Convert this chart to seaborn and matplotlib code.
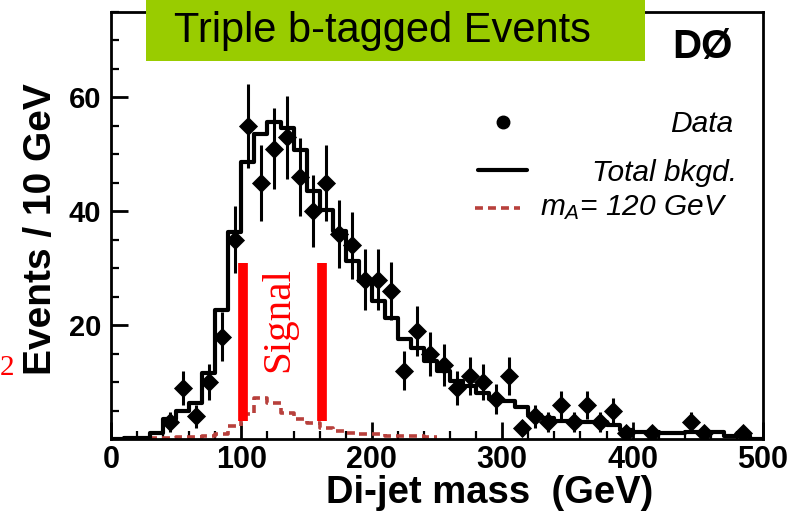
import numpy as np
import pandas as pd
import matplotlib
matplotlib.use("Agg")
import matplotlib.pyplot as plt
from matplotlib.patches import Rectangle
from matplotlib.ticker import MultipleLocator, FixedLocator
import seaborn as sns

# ---------------- data ----------------
bkg_edges = list(range(0, 510, 10))
bkg_counts = [0.0, 0.1, 0.2, 1.0, 3.6, 5.0, 6.4, 11.6, 22.6, 36.3,
              48.7, 53.6, 55.7, 54.6, 50.8, 43.6, 40.3, 36.6, 31.2, 27.7,
              24.2, 21.3, 17.5, 16.0, 13.7, 11.9, 10.2, 9.3, 8.1, 7.0,
              6.7, 5.6, 4.3, 3.7, 3.2, 3.2, 2.9, 2.9, 2.4, 1.5,
              1.2, 1.2, 1.1, 1.1, 1.3, 1.3, 1.3, 0.5, 0.5, 0.0]

sig_edges = list(range(0, 260, 10))
sig_counts = [0.0, 0.05, 0.1, 0.15, 0.2, 0.3, 0.4, 0.5, 0.9, 2.3,
              4.4, 7.2, 6.4, 4.5, 3.5, 2.8, 2.0, 1.4, 1.1, 0.8,
              0.8, 0.6, 0.5, 0.5, 0.4]

data_x = [45, 55, 65, 75, 85, 95, 105, 115, 125, 135, 145, 155, 165, 175,
          185, 195, 205, 215, 225, 235, 245, 255, 265, 275, 285, 295, 305,
          315, 325, 335, 345, 355, 365, 375, 385, 395, 415, 445, 455, 485]
data_y = [3, 9, 4, 10, 18, 35, 55, 45, 51, 53, 46, 40, 45, 36,
          34, 28, 28, 26, 12, 19, 15, 13, 9, 11, 10, 7, 11,
          2, 4, 3, 6, 3, 6, 3, 5, 1, 1, 3, 1, 1]

signal_window = [101, 162]
signal_window_y = [3.2, 31]

x_ticks = [0, 100, 200, 300, 400, 500]
y_ticks = [20, 40, 60]

# ---------------- style ----------------
sns.set_style("ticks")
plt.rcParams["font.family"] = ["Liberation Sans", "DejaVu Sans"]
plt.rcParams["mathtext.fontset"] = "custom"
plt.rcParams["mathtext.it"] = "Liberation Sans:italic"
plt.rcParams["mathtext.rm"] = "Liberation Sans:italic"
for key in ["text.color", "axes.labelcolor", "xtick.color", "ytick.color",
            "xtick.labelcolor", "ytick.labelcolor", "axes.edgecolor"]:
    plt.rcParams[key] = "black"

fig = plt.figure(figsize=(7.96, 5.13), dpi=100)
W, H = 796, 513
ax = fig.add_axes([111 / W, 1 - 439 / H, 652 / W, 427 / H])

# background histogram
bkg_df = pd.DataFrame({"mass": np.array(bkg_edges[:-1]) + 5, "w": bkg_counts})
sns.histplot(data=bkg_df, x="mass", weights="w", bins=bkg_edges, element="step",
             fill=False, color="black", linewidth=3.0, ax=ax, zorder=3)

# signal histogram
sig_color = "#B8403C"
sig_dash = (0, (2.2, 1.4))
sig_df = pd.DataFrame({"mass": np.array(sig_edges[:-1]) + 5, "w": sig_counts})
sns.histplot(data=sig_df, x="mass", weights="w", bins=sig_edges, element="step",
             fill=False, color=sig_color, linewidth=2.6, linestyle=sig_dash,
             ax=ax, zorder=2)

# data points with errors
data_df = pd.DataFrame({"mass": data_x, "n": data_y})
ax.errorbar(data_df["mass"], data_df["n"], yerr=np.sqrt(data_df["n"]), fmt="none",
            ecolor="black", elinewidth=2.2, capsize=0, zorder=4)
sns.scatterplot(data=data_df, x="mass", y="n", marker="D", s=95, color="black",
                edgecolor="black", linewidth=0, ax=ax, zorder=5)

# signal window lines
ax.vlines(signal_window, signal_window_y[0], signal_window_y[1],
          color="#FF0000", linewidth=7, zorder=6)
ax.text(0.258, 0.28, "Signal", transform=ax.transAxes, rotation=90,
        ha="center", va="center", color="#FF0000",
        family=["Liberation Serif", "DejaVu Serif"], fontsize=29.5, zorder=7)

# axes
ax.set_xlim(0, 500)
ax.set_ylim(0, 75)
ax.xaxis.set_major_locator(FixedLocator(x_ticks))
ax.xaxis.set_minor_locator(MultipleLocator(20))
ax.yaxis.set_major_locator(FixedLocator(y_ticks))
ax.yaxis.set_minor_locator(MultipleLocator(5))
ax.tick_params(which="major", direction="in", length=12, width=2, color="black")
ax.tick_params(which="minor", direction="in", length=6, width=1.6, color="black")
ax.tick_params(axis="x", which="major", labelsize=22, pad=4, labelcolor="black")
ax.tick_params(axis="y", which="major", labelsize=21, pad=7, labelcolor="black")
for lab in ax.get_xticklabels() + ax.get_yticklabels():
    lab.set_fontweight("bold")
for sp in ax.spines.values():
    sp.set_visible(True)
    sp.set_linewidth(2)
    sp.set_color("black")

ax.set_xlabel("Di-jet mass  (GeV)", fontsize=27.5, fontweight="bold", color="black")
ax.set_ylabel("Events / 10 GeV", fontsize=28, fontweight="bold", color="black")
ax.xaxis.set_label_coords(0.581, -0.084)
ax.yaxis.set_label_coords(-0.08, 0.492)

# legend (drawn manually in axes fraction)
ax.plot([0.601], [0.742], marker="o", ms=9, color="black", transform=ax.transAxes,
        clip_on=False)
ax.text(0.954, 0.719, "Data", transform=ax.transAxes, ha="right", va="baseline",
        style="italic", fontsize=21.5)
ax.plot([0.563, 0.638], [0.630, 0.630], color="black", lw=3, transform=ax.transAxes)
ax.text(0.960, 0.604, "Total bkgd.", transform=ax.transAxes, ha="right",
        va="baseline", style="italic", fontsize=21.5)
ax.plot([0.558, 0.627], [0.541, 0.541], color=sig_color, lw=2.6,
        linestyle=sig_dash, transform=ax.transAxes)
ax.text(0.945, 0.525, r"$m_A$= 120 GeV", transform=ax.transAxes, ha="right",
        va="baseline", style="italic", fontsize=21.5)

# title box
fig.add_artist(Rectangle((146 / W, 1 - 61 / H), (645 - 146) / W, 61 / H + 0.01,
                         transform=fig.transFigure, facecolor="#99CC00",
                         edgecolor="none", zorder=10))
fig.text(382 / W, 1 - 42 / H, "Triple b-tagged Events", ha="center", va="baseline",
         fontsize=30, color="black", zorder=11)
fig.text(733 / W, 1 - 58 / H, "DØ", ha="right", va="baseline", fontsize=29,
         fontweight="bold", zorder=11)

# red character at the left edge
fig.text(0.0, 1 - 368 / H, "2", ha="left", va="center",
         color="#FF0000", family=["Liberation Serif", "DejaVu Serif"], fontsize=21)

fig.savefig("out.png", dpi=100)
